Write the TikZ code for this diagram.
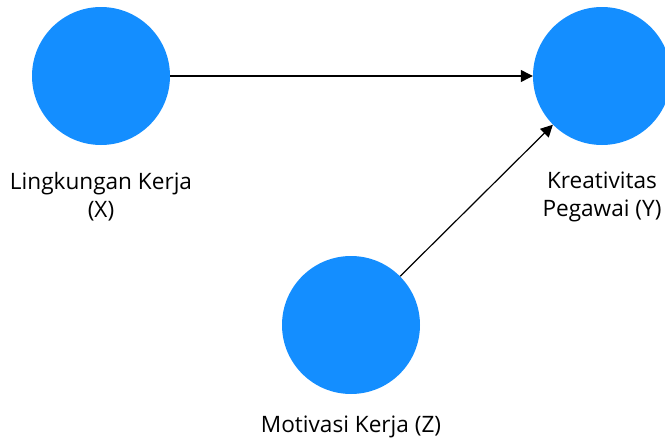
\documentclass[tikz,border=0pt]{standalone}
\usepackage{fontspec}
\setmainfont{Open Sans}
\usetikzlibrary{arrows.meta, positioning}
\definecolor{varblue}{RGB}{20,142,255}

\begin{document}
\begin{tikzpicture}[
        x=1pt, y=-1pt,
        font=\fontsize{22.6}{28}\selectfont,
        >={Triangle[length=12pt, width=12pt]},
        var/.style={circle, fill=varblue, minimum size=138pt, inner sep=0pt},
        lbl/.style={align=center, inner sep=0pt},
        link/.style={->, line width=1.2pt}
    ]
        \useasboundingbox (0,0) rectangle (665,445);
        %=================== variabel ===================
        \node[var] (x) at (101,76) {};
        \node[var] (y) at (602,76) {};
        \node[var] (z) at (351,325) {};
        % label variabel
        \node[lbl, below=27pt of x] (xlab) {Lingkungan Kerja\\(X)};
        \node[lbl, below=27pt of y] (ylab) {Kreativitas\\Pegawai (Y)};
        \node[lbl, below=22pt of z] (zlab) {Motivasi Kerja (Z)};
        %=================== jalur ===================
        \draw[link] (x) -- (y);
        \draw[link] (z) -- (y);
\end{tikzpicture}
\end{document}
